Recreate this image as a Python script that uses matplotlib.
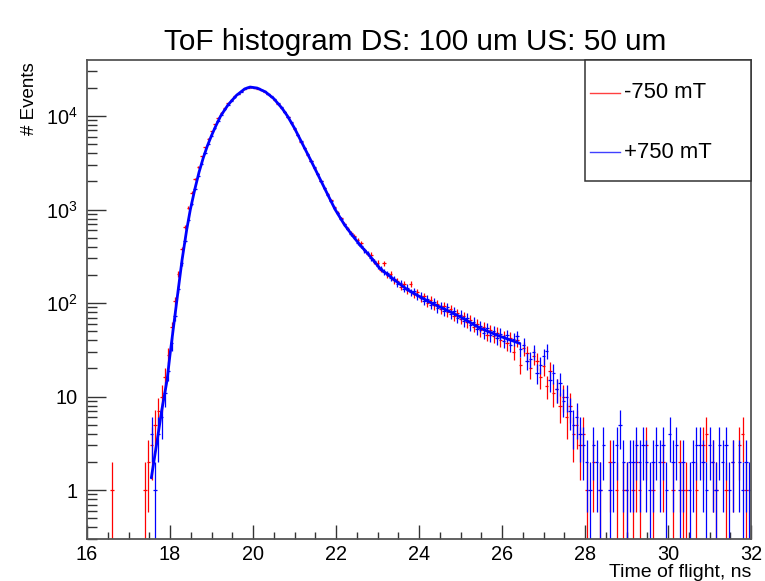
import numpy as np
import matplotlib
matplotlib.use("Agg")
import matplotlib.pyplot as plt
from matplotlib.ticker import FixedLocator, MultipleLocator, LogLocator, NullFormatter
from matplotlib.lines import Line2D
from matplotlib.patches import Rectangle

plt.rcParams['font.family'] = ['Liberation Sans', 'DejaVu Sans']
plt.rcParams['mathtext.fontset'] = 'custom'
plt.rcParams['mathtext.rm'] = 'Liberation Sans'
plt.rcParams['mathtext.it'] = 'Liberation Sans'

# ---------------- data ----------------
title = "ToF histogram DS: 100 um US: 50 um"
x_label = "Time of flight, ns"
y_label = "# Events"
legend_labels = ["-750 mT", "+750 mT"]

x_min, x_max, n_bins = 16.0, 32.0, 200

# counts per bin (bin width 0.08 ns), index 0 -> 16.00-16.08
red_head = [0, 0, 0, 0, 0, 0, 0, 1, 0, 0, 0, 0, 0, 0, 0, 0, 0, 1, 2]
blue_head = [0] * 19

red_main = [3, 5, 7, 10, 16, 28, 55, 105, 205, 380,
            650, 1050, 1520, 2120, 2850, 3700, 4650, 5700, 6900, 8150,
            9600, 10900, 12300, 13700, 15000, 16300, 17400, 18500, 19600, 20100,
            20300, 20000, 19600, 19000, 18100, 17200, 16000, 14900, 13600, 12300,
            11000, 9700, 8500, 7300, 6250, 5300, 4530, 3870, 3300, 2800,
            2390, 2000, 1710, 1460, 1250, 1060, 925, 805, 705, 625,
            560,
            520, 470, 440, 372, 335, 330, 278, 270, 228, 265,
            200, 205, 175, 172, 150, 160, 138, 160, 125, 130,
            112, 118, 100, 108, 95, 98, 86, 92, 80, 86,
            73, 78, 68, 72, 62, 66, 56, 60, 51, 55,
            46, 51, 44, 48, 40, 44, 37, 42, 30, 40,
            22, 33, 29, 20, 27, 24, 16, 21, 13, 19,
            11, 12, 8, 10, 6, 8, 4, 5, 3, 4]
blue_main = [4, 1, 4, 6, 11, 19, 37, 72, 140, 265,
             465, 770, 1140, 1650, 2280, 3090, 3980, 5010, 6170, 7410,
             8910, 10230, 11750, 13180, 14450, 15850, 17180, 18200, 19500, 20180,
             20420, 19950, 19780, 19140, 18320, 17340, 16220, 15030, 13740, 12450,
             11120, 9840, 8610, 7410, 6310, 5370, 4570, 3890, 3310, 2820,
             2400, 1995, 1700, 1445, 1230, 1047, 912, 794, 692, 617,
             550,
             505, 440, 410, 365, 345, 300, 282, 248, 236, 214,
             208, 186, 182, 160, 162, 143, 146, 130, 133, 118,
             120, 106, 110, 96, 103, 88, 94, 82, 90, 76,
             82, 70, 75, 64, 70, 58, 63, 53, 57, 48,
             54, 45, 50, 42, 47, 39, 45, 36, 41, 44,
             32, 36, 24, 25, 30, 18, 22, 27, 31, 15,
             18, 12, 14, 9, 10, 7, 5, 6, 4, 3]
red_tail = [1, 0, 2, 0, 1, 0, 0, 2, 0, 1,
            0, 1, 1, 0, 1, 2, 1, 0, 3, 0,
            1, 0, 0, 2, 0, 0, 1, 0, 2, 1,
            1, 0, 0, 1, 0, 3, 4, 0, 2, 1,
            0, 0, 1, 0, 2, 0, 3, 4, 1, 0]
blue_tail = [2, 1, 3, 2, 1, 3, 0, 1, 2, 3,
             5, 2, 1, 2, 2, 3, 2, 3, 2, 1,
             2, 3, 2, 3, 1, 4, 2, 3, 1, 2,
             0, 1, 2, 3, 3, 2, 1, 3, 2, 1,
             3, 2, 3, 1, 2, 0, 2, 1, 2, 1]

red_counts = np.array(red_head + red_main + red_tail, dtype=float)
blue_counts = np.array(blue_head + blue_main + blue_tail, dtype=float)

# fitted curve
fit_t = [17.55, 17.7, 17.8, 17.93, 18.0, 18.1, 18.2, 18.29, 18.4, 18.49, 18.6, 18.7,
         18.8, 18.9, 19.0, 19.1, 19.22, 19.4, 19.6, 19.8, 19.93, 20.1, 20.3, 20.5,
         20.7, 20.83, 21.0, 21.2, 21.4, 21.6, 21.8, 21.98, 22.2, 22.4, 22.58, 22.8,
         23.06, 23.4, 23.7, 24.02, 24.3, 24.67, 25.0, 25.47, 25.9, 26.43]
fit_v = [1.35, 3.6, 7.1, 15, 28, 63, 141, 288, 600, 1000, 1660, 2510,
         3550, 4790, 6170, 7760, 10000, 13180, 16600, 19500, 20400, 19900, 18100, 15350,
         12100, 10000, 7410, 4950, 3310, 2190, 1445, 1000, 692, 525, 417, 324,
         234, 178, 141, 117, 100, 84, 71, 54, 45, 37]

y_ticks = [1, 10, 100, 1000, 10000]
y_tick_labels = ["1", "10", r"$\mathregular{10^{2}}$", r"$\mathregular{10^{3}}$", r"$\mathregular{10^{4}}$"]
x_ticks = [16, 18, 20, 22, 24, 26, 28, 30, 32]

# ---------------- plot ----------------
W, H = 765, 581
fig = plt.figure(figsize=(W / 100, H / 100), dpi=100)
ax = fig.add_axes([87 / W, 1 - 539 / H, (751 - 87) / W, (539 - 60) / H])

edges = np.linspace(x_min, x_max, n_bins + 1)
centers = 0.5 * (edges[:-1] + edges[1:])
half = 0.5 * (edges[1] - edges[0])

def draw_hist(counts, color):
    m = counts > 0
    c = counts[m]
    err = np.sqrt(c)
    lo = c - np.maximum(c - err, 1e-3)
    ax.errorbar(centers[m], c, xerr=half, yerr=[lo, err], fmt='none',
                ecolor=color, elinewidth=0.9, capsize=0)

draw_hist(red_counts, '#ff0000')
draw_hist(blue_counts, '#0000ff')
ax.plot(fit_t, fit_v, color='#0000ff', lw=2.0, solid_capstyle='round', zorder=5)

ax.set_yscale('log')
ax.set_xlim(x_min, x_max)
ax.set_ylim(0.3, 3.97e4)

ax.xaxis.set_major_locator(FixedLocator(x_ticks))
ax.xaxis.set_minor_locator(MultipleLocator(0.5))
ax.set_xticklabels([str(t) for t in x_ticks])
ax.yaxis.set_major_locator(FixedLocator(y_ticks))
ax.set_yticklabels(y_tick_labels)
ax.yaxis.set_minor_locator(LogLocator(base=10, subs=np.arange(2, 10)))
ax.yaxis.set_minor_formatter(NullFormatter())

spine_c = '#555555'
for s in ax.spines.values():
    s.set_color(spine_c)
    s.set_linewidth(1.3)
ax.tick_params(axis='x', which='major', direction='in', length=10, width=1.0, color='#333333',
               labelsize=14.3, pad=4.5, top=False)
ax.tick_params(axis='x', which='minor', direction='in', length=5, width=1.0, color='#333333', top=False)
ax.tick_params(axis='y', which='major', direction='in', length=13.5, width=1.0, color='#333333',
               labelsize=14.3, pad=7, right=False)
ax.tick_params(axis='y', which='minor', direction='in', length=7, width=1.0, color='#333333', right=False)

fig.text(415 / W, 1 - 50 / H, title, fontsize=21.4, ha='center', va='baseline')
fig.text(751 / W, 1 - 577 / H, x_label, fontsize=14.0, ha='right', va='baseline')
fig.text(38 / W, 1 - 62 / H, y_label, fontsize=13.5, ha='right', va='top', rotation=90)

# legend box
lx0, ly0, lx1, ly1 = 585, 60, 751, 181
fig.patches.append(Rectangle((lx0 / W, 1 - ly1 / H), (lx1 - lx0) / W, (ly1 - ly0) / H,
                             transform=fig.transFigure, facecolor='white', edgecolor='#333333',
                             linewidth=1.1, zorder=10))
for ypx, col, lab in [(93, '#ff4040', legend_labels[0]), (152, '#4040ff', legend_labels[1])]:
    fig.lines.append(Line2D([590 / W, 620 / W], [1 - ypx / H, 1 - ypx / H], transform=fig.transFigure,
                            color=col, lw=1.0, zorder=11))
    fig.text(624 / W, 1 - ypx / H, lab, fontsize=15.8, ha='left', va='center', zorder=12)

fig.savefig("out.png", dpi=100)
